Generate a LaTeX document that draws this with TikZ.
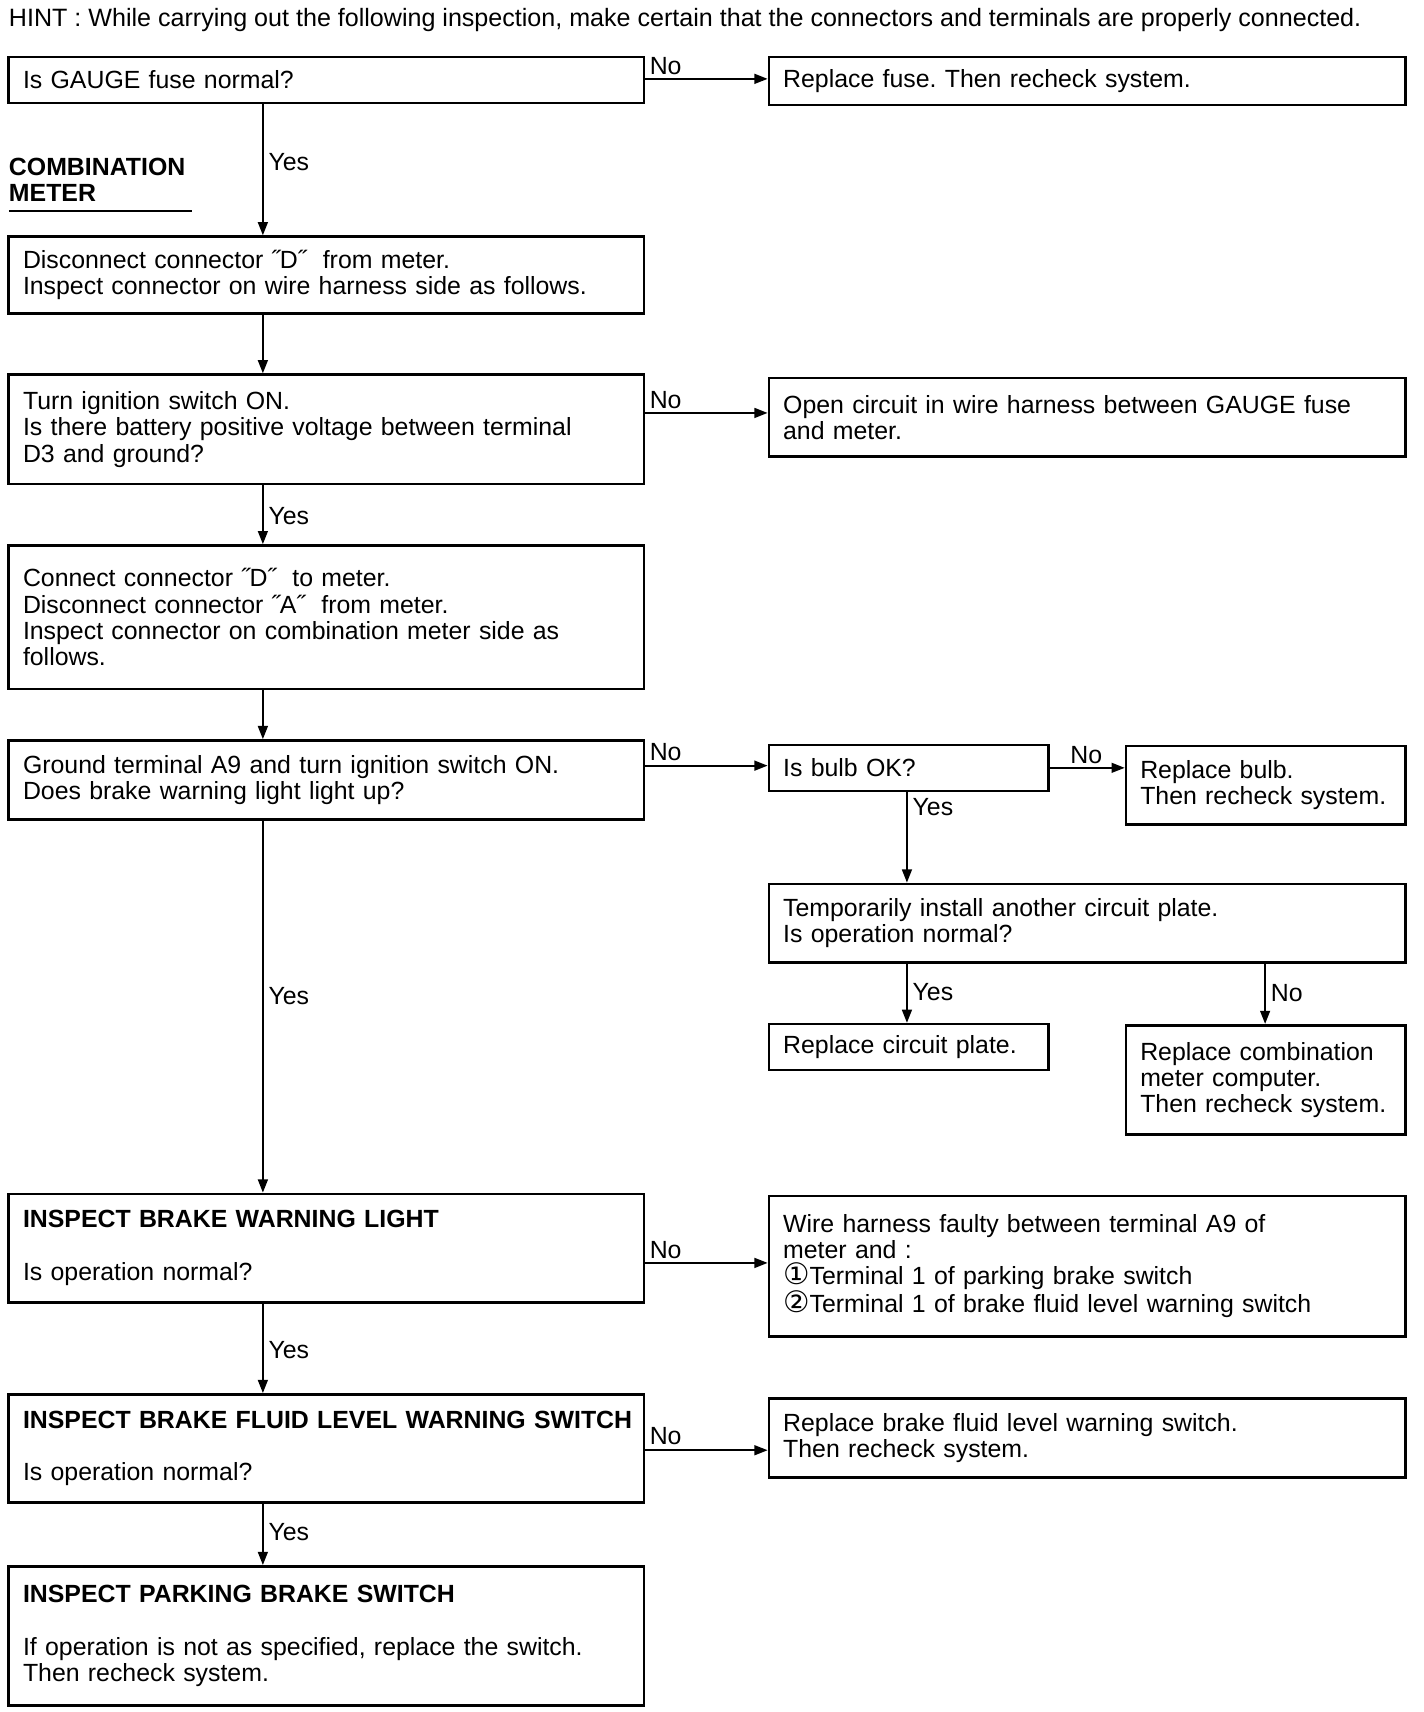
\documentclass[tikz,border=0pt]{standalone}
\usepackage{fontspec}
\setmainfont{Liberation Sans}
\newfontfamily\djv{DejaVu Sans}
\usetikzlibrary{arrows.meta}
\newcommand\mainsize{\fontsize{22.7}{24}\selectfont}
\newcommand\circnum[1]{{\djv\fontsize{27}{24}\selectfont #1}}
\newcommand\ttl[1]{\mbox{\bfseries #1}}
\tikzset{
  box/.style={draw, line width=2.4pt, inner xsep=13pt, inner ysep=0pt, align=left, anchor=center,
    font=\mainsize},
  arr/.style={line width=1.6pt, -{Triangle[length=12pt,width=9pt]}},
  lbl/.style={anchor=west, inner sep=0pt, font=\mainsize},
}
\begin{document}
\frenchspacing
\begin{tikzpicture}[x=1pt,y=-1pt]
\useasboundingbox (0,0) rectangle (1300,1563);
\node[lbl, font=\fontsize{22.9}{24}\selectfont] (hint) at (8,18) {HINT : While carrying out the following inspection, make certain that the connectors and terminals are properly connected.};

\node[box, minimum width=580pt, minimum height=42pt, text width=554pt] (b1) at (298,73) {Is GAUGE fuse normal?};
\node[box, minimum width=581pt, minimum height=44pt, text width=555pt] (b2) at (992.5,74) {Replace fuse. Then recheck system.};
\node[lbl, font=\bfseries\mainsize, align=left, anchor=north west] (cm) at (8,144) {COMBINATION\\METER};
\coordinate (ul1) at (8,193);
\coordinate (ul2) at (175,193);
\draw[line width=2pt] (ul1) -- (ul2);
\node[box, minimum width=580pt, minimum height=70pt, text width=554pt] (b3) at (298,251) {Disconnect connector ˝D˝\ \ from meter.\\Inspect connector on wire harness side as follows.};
\node[box, minimum width=580pt, minimum height=100pt, text width=554pt] (b4) at (298,392) {Turn ignition switch ON.\\Is there battery positive voltage between terminal\\D3 and ground?};
\node[box, minimum width=581pt, minimum height=72pt, text width=555pt] (b5) at (992.5,381) {Open circuit in wire harness between GAUGE fuse\\and meter.};
\node[box, minimum width=580pt, minimum height=131pt, text width=554pt] (b6) at (298,563.5) {Connect connector ˝D˝\ \ to meter.\\Disconnect connector ˝A˝\ \ from meter.\\Inspect connector on combination meter side as\\follows.};
\node[box, minimum width=580pt, minimum height=72pt, text width=554pt] (b7) at (298,712) {Ground terminal A9 and turn ignition switch ON.\\Does brake warning light light up?};
\node[box, minimum width=255pt, minimum height=42pt, text width=229pt] (b8) at (829.5,701) {Is bulb OK?};
\node[box, minimum width=255pt, minimum height=72pt, text width=229pt] (b9) at (1155.5,717) {Replace bulb.\\Then recheck system.};
\node[box, minimum width=581pt, minimum height=72pt, text width=555pt] (b10) at (992.5,843) {Temporarily install another circuit plate.\\Is operation normal?};
\node[box, minimum width=255pt, minimum height=42pt, text width=229pt] (b11) at (829.5,956) {Replace circuit plate.};
\node[box, minimum width=255pt, minimum height=100pt, text width=229pt] (b12) at (1155.5,986) {Replace combination\\meter computer.\\Then recheck system.};
\node[box, minimum width=580pt, minimum height=99pt, text width=554pt] (b13) at (298,1139.5) {\ttl{INSPECT BRAKE WARNING LIGHT}\\[24pt]Is operation normal?};
\node[box, minimum width=581pt, minimum height=128pt, text width=555pt] (b14) at (992.5,1156) {Wire harness faulty between terminal A9 of\\meter and :\\\circnum{①}Terminal 1 of parking brake switch\\\circnum{②}Terminal 1 of brake fluid level warning switch};
\node[box, minimum width=580pt, minimum height=99pt, text width=554pt] (b15) at (298,1322.5) {\ttl{INSPECT BRAKE FLUID LEVEL WARNING SWITCH}\\[24pt]Is operation normal?};
\node[box, minimum width=581pt, minimum height=72pt, text width=555pt] (b16) at (992.5,1313) {Replace brake fluid level warning switch.\\Then recheck system.};
\node[box, minimum width=580pt, minimum height=127pt, text width=554pt] (b17) at (298,1493.5) {\ttl{INSPECT PARKING BRAKE SWITCH}\\[24pt]If operation is not as specified, replace the switch.\\Then recheck system.};

% vertical connectors
\coordinate (xl) at (240,0);
\coordinate (xm) at (828,0);
\coordinate (xr) at (1155,0);
\draw[arr] (b1.south -| xl) -- (b3.north -| xl);
\draw[arr] (b3.south -| xl) -- (b4.north -| xl);
\draw[arr] (b4.south -| xl) -- (b6.north -| xl);
\draw[arr] (b6.south -| xl) -- (b7.north -| xl);
\draw[arr] (b7.south -| xl) -- (b13.north -| xl);
\draw[arr] (b13.south -| xl) -- (b15.north -| xl);
\draw[arr] (b15.south -| xl) -- (b17.north -| xl);
\draw[arr] (b8.south -| xm) -- (b10.north -| xm);
\draw[arr] (b10.south -| xm) -- (b11.north -| xm);
\draw[arr] (b10.south -| xr) -- (b12.north -| xr);

% horizontal connectors
\coordinate (y1) at (0,72);
\coordinate (y4) at (0,377);
\coordinate (y7) at (0,699);
\coordinate (y8) at (0,701);
\coordinate (y13) at (0,1153);
\coordinate (y15) at (0,1324);
\draw[arr] (y1 -| b1.east) -- (y1 -| b2.west);
\draw[arr] (y4 -| b4.east) -- (y4 -| b5.west);
\draw[arr] (y7 -| b7.east) -- (y7 -| b8.west);
\draw[arr] (y8 -| b8.east) -- (y8 -| b9.west);
\draw[arr] (y13 -| b13.east) -- (y13 -| b14.west);
\draw[arr] (y15 -| b15.east) -- (y15 -| b16.west);

% labels
\node[lbl] (n1) at (593,60) {No};
\node[lbl] (n4) at (593,365) {No};
\node[lbl] (n7) at (593,687) {No};
\node[lbl] (n8) at (977,689) {No};
\node[lbl] (n13) at (593,1141) {No};
\node[lbl] (n15) at (593,1311) {No};
\node[lbl] (n10) at (1160,907) {No};
\node[lbl] (ye1) at (245,148) {Yes};
\node[lbl] (ye4) at (245,471) {Yes};
\node[lbl] (ye7) at (245,909) {Yes};
\node[lbl] (ye13) at (245,1233) {Yes};
\node[lbl] (ye15) at (245,1399) {Yes};
\node[lbl] (ye8) at (833,737) {Yes};
\node[lbl] (ye10) at (833,906) {Yes};
\end{tikzpicture}
\end{document}
